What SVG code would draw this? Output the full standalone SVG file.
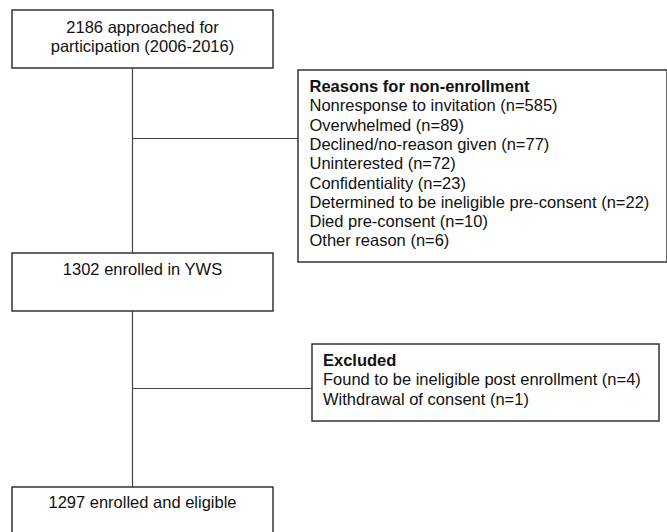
<svg xmlns="http://www.w3.org/2000/svg" width="667" height="532" viewBox="0 0 667 532">
<style>
.box{fill:#fff;stroke:#333;stroke-width:1.5}
.conn{stroke:#444;stroke-width:1.2;fill:none}
text{font-family:"Liberation Sans",Arial,sans-serif;font-size:16.5px;fill:#111}
.c{text-anchor:middle}
.b{font-weight:bold}
</style>
<rect width="667" height="532" fill="#fff"/>
<g id="connectors">
<line class="conn" x1="132.5" y1="68" x2="132.5" y2="253"/>
<line class="conn" x1="132.5" y1="138.5" x2="298" y2="138.5"/>
<line class="conn" x1="132.5" y1="311" x2="132.5" y2="487"/>
<line class="conn" x1="132.5" y1="388.5" x2="312" y2="388.5"/>
</g>
<g id="approached">
<rect class="box" x="12" y="10" width="261" height="58"/>
<text class="c" x="142.5" y="32.5">2186 approached for</text>
<text class="c" x="142.5" y="51.8">participation (2006-2016)</text>
</g>
<g id="reasons">
<rect class="box" x="298" y="70" width="369" height="192"/>
<text class="b" x="309.5" y="92">Reasons for non-enrollment</text>
<text x="309.5" y="111.3">Nonresponse to invitation (n=585)</text>
<text x="309.5" y="130.6">Overwhelmed (n=89)</text>
<text x="309.5" y="149.9">Declined/no-reason given (n=77)</text>
<text x="309.5" y="169.2">Uninterested (n=72)</text>
<text x="309.5" y="188.5">Confidentiality (n=23)</text>
<text x="309.5" y="207.8">Determined to be ineligible pre-consent (n=22)</text>
<text x="309.5" y="227.1">Died pre-consent (n=10)</text>
<text x="309.5" y="246.4">Other reason (n=6)</text>
</g>
<g id="enrolled">
<rect class="box" x="12" y="253" width="261" height="58"/>
<text class="c" x="142.5" y="275">1302 enrolled in YWS</text>
</g>
<g id="excluded">
<rect class="box" x="312" y="344" width="347" height="77"/>
<text class="b" x="323" y="366">Excluded</text>
<text x="323" y="385.3">Found to be ineligible post enrollment (n=4)</text>
<text x="323" y="404.6">Withdrawal of consent (n=1)</text>
</g>
<g id="eligible">
<rect class="box" x="12" y="487" width="261" height="58"/>
<text class="c" x="142.5" y="508">1297 enrolled and eligible</text>
</g>
</svg>
